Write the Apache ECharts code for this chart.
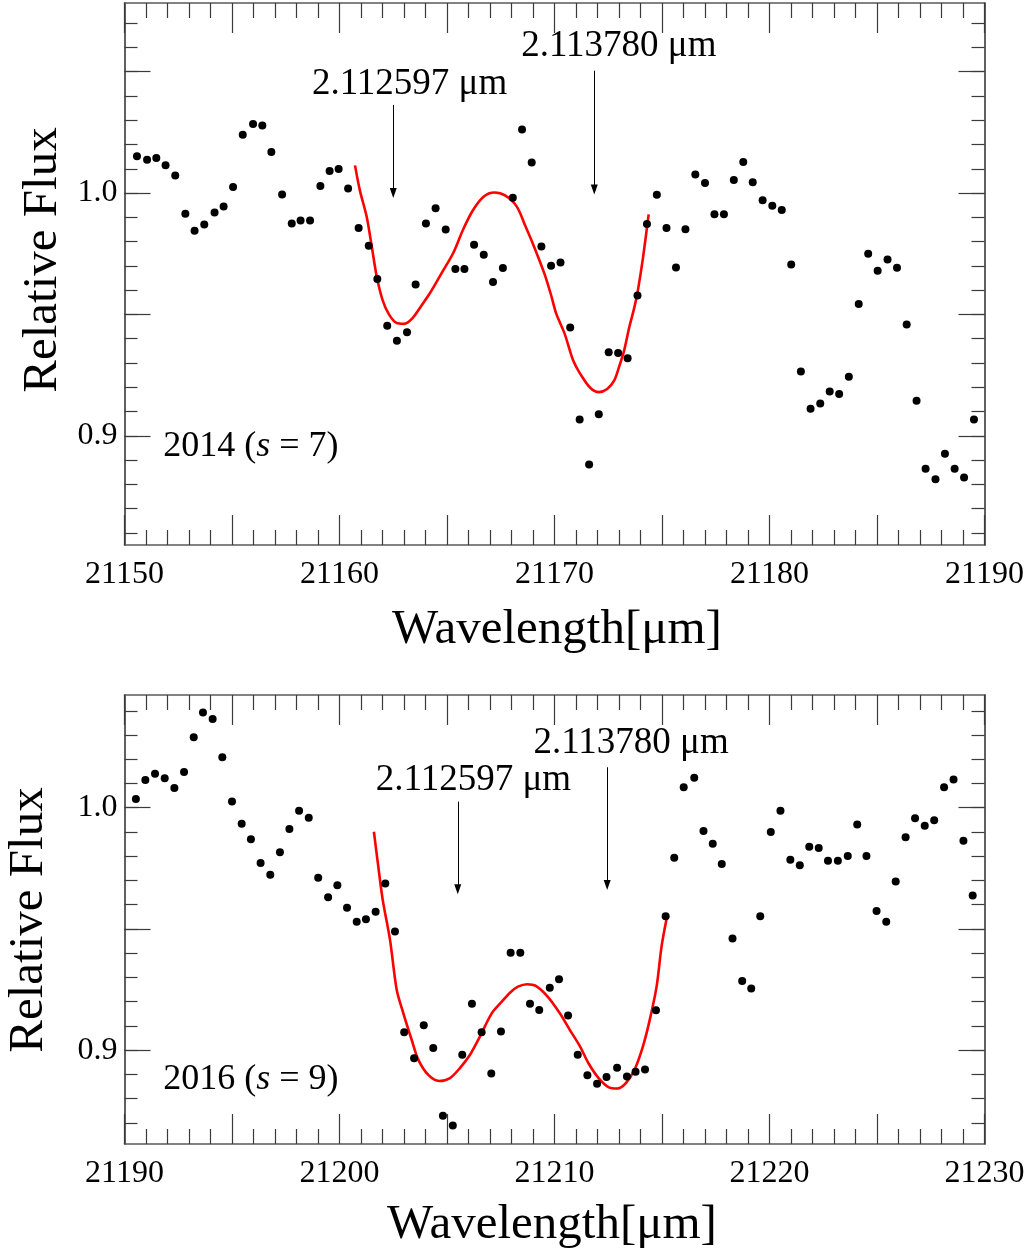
<!DOCTYPE html>
<html>
<head>
<meta charset="utf-8">
<script src="https://cdn.jsdelivr.net/npm/echarts@6/dist/echarts.min.js"></script>
<style>
  html, body { margin: 0; padding: 0; background: #fff; }
  #chart { width: 1033px; height: 1259px; }
</style>
</head>
<body>
<div id="chart"></div>
<script>
// ---- 2014 spectrum (s = 7) ----
const wave2014 = [21150.58,21151.05,21151.48,21151.91,21152.36,21152.83,21153.26,21153.71,21154.19,21154.61,
  21155.05,21155.50,21155.98,21156.41,21156.83,21157.33,21157.78,21158.19,21158.63,21159.11,
  21159.54,21159.96,21160.40,21160.89,21161.36,21161.76,21162.22,21162.67,21163.14,21163.54,
  21164.02,21164.47,21164.94,21165.39,21165.81,21166.26,21166.71,21167.14,21167.60,21168.06,
  21168.49,21168.94,21169.39,21169.84,21170.28,21170.73,21171.17,21171.61,21172.06,21172.52,
  21172.96,21173.40,21173.86,21174.30,21174.76,21175.21,21175.65,21176.09,21176.55,21177.00,
  21177.44,21177.88,21178.34,21178.78,21179.22,21179.68,21180.13,21180.57,21181.01,21181.46,
  21181.91,21182.36,21182.80,21183.24,21183.69,21184.15,21184.59,21185.03,21185.49,21185.93,
  21186.38,21186.84,21187.26,21187.72,21188.16,21188.61,21189.05,21189.51];
const flux2014 = [1.0152,1.0137,1.0144,1.0115,1.0072,0.9915,0.9845,0.9870,0.9920,0.9945,
  1.0025,1.0240,1.0284,1.0278,1.0169,0.9994,0.9875,0.9887,0.9887,1.0029,
  1.0091,1.0099,1.0019,0.9856,0.9783,0.9646,0.9453,0.9391,0.9426,0.9623,
  0.9875,0.9937,0.9850,0.9687,0.9687,0.9787,0.9746,0.9634,0.9691,0.9981,
  1.0262,1.0126,0.9780,0.9700,0.9714,0.9446,0.9067,0.8882,0.9089,0.9344,
  0.9341,0.9319,0.9578,0.9873,0.9993,0.9856,0.9693,0.9851,1.0076,1.0041,
  0.9913,0.9913,1.0054,1.0128,1.0045,0.9970,0.9948,0.9930,0.9706,0.9265,
  0.9111,0.9133,0.9182,0.9172,0.9243,0.9543,0.9750,0.9680,0.9726,0.9692,
  0.9458,0.9144,0.8864,0.8821,0.8926,0.8864,0.8828,0.9067];
const fitWave2014 = [21160.72,21160.95,21161.26,21161.50,21161.73,21162.00,21162.30,21162.65,21163.00,21163.40,
  21163.80,21164.21,21164.75,21165.29,21165.75,21166.22,21166.70,21167.20,21167.70,21168.24,
  21168.66,21169.05,21169.53,21169.84,21170.08,21170.47,21170.87,21171.19,21171.66,21172.06,
  21172.45,21172.78,21173.00,21173.24,21173.48,21173.72,21173.88,21174.11,21174.38];
const fitFlux2014 = [1.0114,1.0010,0.9904,0.9780,0.9657,0.9560,0.9500,0.9465,0.9461,0.9485,
  0.9535,0.9588,0.9670,0.9753,0.9850,0.9931,0.9985,1.0002,0.9990,0.9945,
  0.9861,0.9779,0.9668,0.9580,0.9503,0.9421,0.9310,0.9256,0.9198,0.9180,
  0.9193,0.9228,0.9283,0.9352,0.9448,0.9531,0.9600,0.9730,0.9912];

// ---- 2016 spectrum (s = 9) ----
const wave2016 = [21190.53,21190.97,21191.42,21191.87,21192.32,21192.77,21193.22,21193.65,21194.10,21194.55,
  21195.00,21195.45,21195.88,21196.33,21196.78,21197.23,21197.67,21198.12,21198.57,21199.01,
  21199.47,21199.90,21200.35,21200.80,21201.23,21201.68,21202.13,21202.58,21203.01,21203.47,
  21203.92,21204.36,21204.81,21205.27,21205.71,21206.16,21206.61,21207.06,21207.51,21207.96,
  21208.41,21208.86,21209.29,21209.78,21210.21,21210.63,21211.08,21211.53,21211.98,21212.42,
  21212.91,21213.37,21213.77,21214.21,21214.72,21215.17,21215.57,21216.01,21216.50,21216.93,
  21217.36,21217.78,21218.28,21218.73,21219.15,21219.57,21220.06,21220.51,21220.97,21221.41,
  21221.85,21222.29,21222.72,21223.18,21223.64,21224.08,21224.51,21224.98,21225.43,21225.87,
  21226.33,21226.77,21227.22,21227.66,21228.12,21228.56,21229.02,21229.45];
const flux2016 = [1.0036,1.0114,1.0140,1.0122,1.0081,1.0147,1.0291,1.0393,1.0366,1.0208,
  1.0026,0.9934,0.9870,0.9772,0.9724,0.9816,0.9912,0.9988,0.9959,0.9711,
  0.9631,0.9680,0.9587,0.9530,0.9540,0.9571,0.9688,0.9489,0.9074,0.8967,
  0.9103,0.9009,0.8730,0.8689,0.8981,0.9191,0.9074,0.8904,0.9077,0.9402,
  0.9402,0.9191,0.9166,0.9257,0.9293,0.9143,0.8981,0.8897,0.8862,0.8889,
  0.8927,0.8891,0.8911,0.8920,0.9165,0.9552,0.9794,1.0084,1.0124,0.9904,
  0.9851,0.9768,0.9461,0.9285,0.9254,0.9552,0.9900,0.9988,0.9785,0.9763,
  0.9839,0.9834,0.9781,0.9781,0.9801,0.9931,0.9801,0.9574,0.9530,0.9696,
  0.9878,0.9957,0.9926,0.9948,1.0084,1.0116,0.9864,0.9638];
const fitWave2016 = [21201.60,21201.80,21202.01,21202.35,21202.66,21202.97,21203.36,21203.67,21204.13,21204.64,
  21205.14,21205.60,21206.07,21206.53,21207.08,21207.55,21207.94,21208.30,21208.73,21209.13,
  21209.68,21210.24,21210.71,21211.19,21211.58,21212.06,21212.53,21212.93,21213.32,21213.72,
  21214.11,21214.43,21214.75,21214.98,21215.22];
const fitFlux2016 = [0.9901,0.9760,0.9620,0.9455,0.9249,0.9152,0.9042,0.8960,0.8898,0.8873,
  0.8885,0.8926,0.8981,0.9056,0.9152,0.9200,0.9238,0.9262,0.9272,0.9265,
  0.9221,0.9153,0.9084,0.9015,0.8946,0.8884,0.8847,0.8842,0.8864,0.8919,
  0.9015,0.9125,0.9263,0.9428,0.9545];

// ---- line identifications: arrow x, arrow top, arrow tip, label x, label y ----
const lineNames = ['2.112597 μm', '2.113780 μm'];
const arrows2014 = [[21162.50, 1.0363, 1.0000, 21163.26, 1.0450], [21171.85, 1.0504, 1.0015, 21172.99, 1.0606]];
const arrows2016 = [[21205.50, 1.0025, 0.9664, 21206.23, 1.0114], [21212.45, 1.0167, 0.9681, 21213.56, 1.0265]];

// ---- axes ----
const xRange2014 = [21150, 21190];
const xRange2016 = [21190, 21230];
const yRange2014 = [0.855, 1.0783];
const yRange2016 = [0.8613, 1.0465];
const fluxMajorTicks = [0.90, 0.95, 1.00, 1.05];
const fluxMinorTicks = [0.86,0.87,0.88,0.89,0.90,0.91,0.92,0.93,0.94,0.95,0.96,0.97,0.98,0.99,
  1.00,1.01,1.02,1.03,1.04,1.05,1.06,1.07];
const fluxLabelValues = [0.9, 1.0];
const panelTags = [
  { wave: 21151.80, flux: 0.8957, year: '2014', s: '7' },
  { wave: 21191.80, flux: 0.8878, year: '2016', s: '9' }
];

const FONT = '"Liberation Serif", "Times New Roman", serif';
const FRAME = '#5a5a5a';
const TICK = '#3a3a3a';

const grids = [
  { left: 124.5, top: 3, width: 860, height: 542 },
  { left: 124.5, top: 695, width: 860, height: 449 }
];

function xAxesFor(gi, range) {
  const base = {
    type: 'value', gridIndex: gi, min: range[0], max: range[1], interval: 5,
    axisLine: { show: true, onZero: false, lineStyle: { color: FRAME, width: 1.6 } },
    axisTick: { show: true, inside: true, length: 30, lineStyle: { color: TICK, width: 1.2 } },
    minorTick: { show: true, splitNumber: 5, length: 15, lineStyle: { color: TICK, width: 1.2 } },
    splitLine: { show: false }, minorSplitLine: { show: false }
  };
  return [
    Object.assign({}, base, {
      position: 'bottom',
      axisLabel: {
        show: true, margin: 14, fontFamily: FONT, fontSize: 32, color: '#000',
        showMinLabel: true, showMaxLabel: true,
        formatter: v => (Math.round(v) % 10 === 0 ? String(Math.round(v)) : '')
      }
    }),
    Object.assign({}, base, { position: 'top', axisLabel: { show: false } })
  ];
}

function yAxesFor(gi, range) {
  const line = { show: true, onZero: false, lineStyle: { color: FRAME, width: 1.6 } };
  const common = { type: 'value', gridIndex: gi, min: range[0], max: range[1],
    splitLine: { show: false }, axisLine: line };
  const major = { show: true, inside: true, length: 26, customValues: fluxMajorTicks,
    lineStyle: { color: TICK, width: 1.2 } };
  const minor = { show: true, inside: true, length: 13, customValues: fluxMinorTicks,
    lineStyle: { color: TICK, width: 1.2 } };
  return [
    Object.assign({}, common, {
      position: 'left', axisTick: major,
      axisLabel: { show: true, customValues: fluxLabelValues, margin: 7, fontFamily: FONT,
        fontSize: 32, color: '#000', formatter: v => v.toFixed(1) }
    }),
    Object.assign({}, common, { position: 'left', axisTick: minor, axisLabel: { show: false } }),
    Object.assign({}, common, { position: 'right', axisTick: major, axisLabel: { show: false } }),
    Object.assign({}, common, { position: 'right', axisTick: minor, axisLabel: { show: false } })
  ];
}

function zip(a, b) { return a.map((v, i) => [v, b[i]]); }

function panelSeries(gi, wave, flux, fitW, fitF, arrows, tag) {
  const xi = gi * 2, yi = gi * 4;
  return [
    {
      type: 'line', xAxisIndex: xi, yAxisIndex: yi, data: zip(fitW, fitF),
      showSymbol: false, smooth: 0.3, lineStyle: { color: '#ff0000', width: 2.6 },
      silent: true, z: 2
    },
    {
      type: 'scatter', xAxisIndex: xi, yAxisIndex: yi, data: zip(wave, flux),
      symbol: 'circle', symbolSize: 8, itemStyle: { color: '#000', opacity: 1 }, silent: true, z: 3,
      markLine: {
        silent: true, symbol: ['none', 'triangle'], symbolSize: [7, 10],
        label: { show: false },
        lineStyle: { color: '#000', width: 1, type: 'solid', opacity: 1 },
        emphasis: { disabled: true },
        data: arrows.map(a => [{ coord: [a[0], a[1]] }, { coord: [a[0], a[2]] }])
      }
    },
    {
      type: 'scatter', xAxisIndex: xi, yAxisIndex: yi, symbolSize: 0, silent: true,
      itemStyle: { opacity: 1 },
      data: arrows.map((a, i) => ({ value: [a[3], a[4]], name: lineNames[i] })),
      label: { show: true, position: 'inside', formatter: p => p.name, opacity: 1,
        fontFamily: FONT, fontSize: 37, color: '#000' }
    },
    {
      type: 'scatter', xAxisIndex: xi, yAxisIndex: yi, symbolSize: 0, silent: true,
      itemStyle: { opacity: 1 },
      data: [{ value: [tag.wave, tag.flux] }],
      label: {
        show: true, position: 'right', distance: 0, opacity: 1,
        formatter: tag.year + ' ({i|s} = ' + tag.s + ')',
        fontFamily: FONT, fontSize: 36, color: '#000',
        rich: { i: { fontFamily: FONT, fontSize: 36, fontStyle: 'italic', color: '#000' } }
      }
    }
  ];
}

const titleFont = '49px ' + FONT;
const option = {
  animation: false,
  backgroundColor: '#fff',
  grid: grids,
  xAxis: xAxesFor(0, xRange2014).concat(xAxesFor(1, xRange2016)),
  yAxis: yAxesFor(0, yRange2014).concat(yAxesFor(1, yRange2016)),
  series: panelSeries(0, wave2014, flux2014, fitWave2014, fitFlux2014, arrows2014, panelTags[0])
    .concat(panelSeries(1, wave2016, flux2016, fitWave2016, fitFlux2016, arrows2016, panelTags[1])),
  graphic: [
    { type: 'text', x: 43, y: 260, rotation: Math.PI / 2,
      style: { text: 'Relative Flux', font: titleFont, fill: '#000', align: 'center', verticalAlign: 'middle' } },
    { type: 'text', x: 29, y: 920, rotation: Math.PI / 2,
      style: { text: 'Relative Flux', font: titleFont, fill: '#000', align: 'center', verticalAlign: 'middle' } },
    { type: 'text', x: 557, y: 630,
      style: { text: 'Wavelength[μm]', font: titleFont, fill: '#000', align: 'center', verticalAlign: 'middle' } },
    { type: 'text', x: 552, y: 1225,
      style: { text: 'Wavelength[μm]', font: titleFont, fill: '#000', align: 'center', verticalAlign: 'middle' } }
  ]
};

const chart = echarts.init(document.getElementById('chart'), null, { renderer: 'canvas' });
chart.setOption(option);
</script>
</body>
</html>
